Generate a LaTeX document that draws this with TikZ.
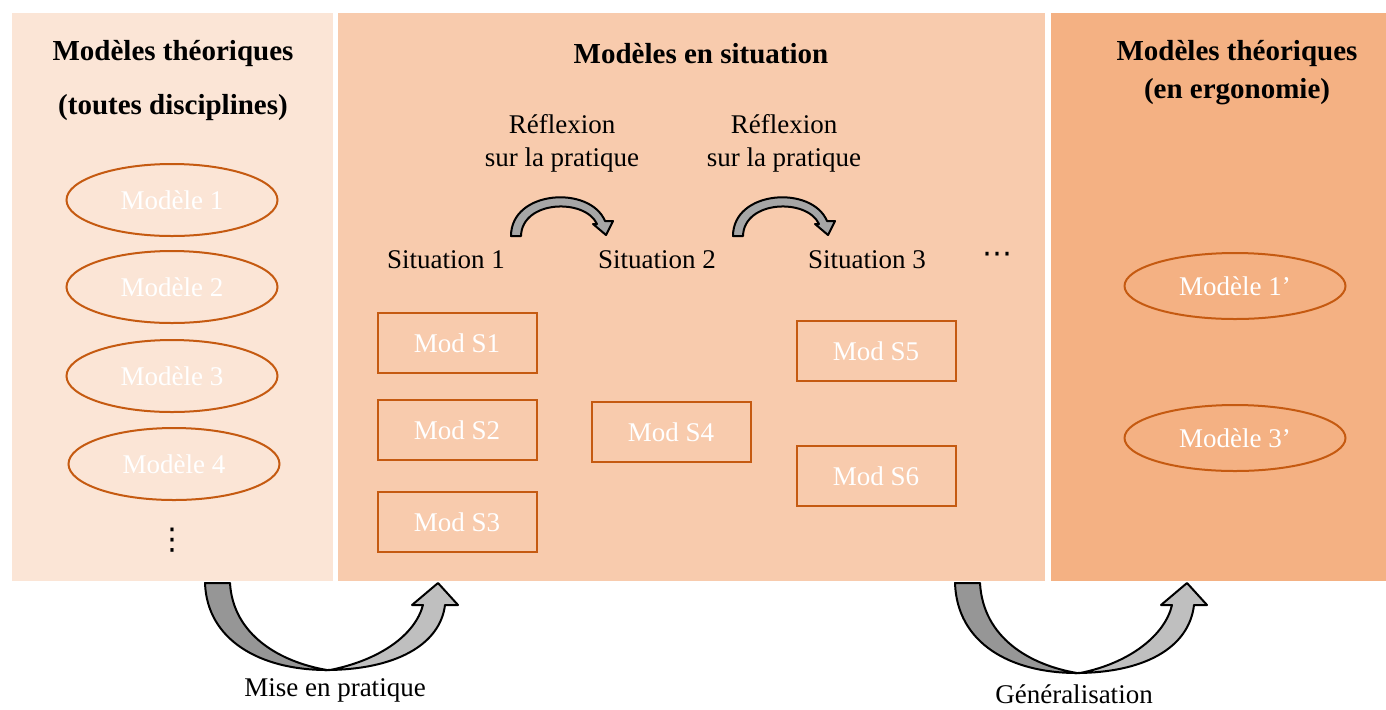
\documentclass[tikz,border=0pt]{standalone}
\usepackage{fontspec}
\setmainfont{Liberation Serif}
\newfontfamily\symbfont{DejaVu Sans}
\usetikzlibrary{shapes.geometric}

\definecolor{panelTheo}{HTML}{FBE5D6}
\definecolor{panelSit}{HTML}{F8CBAD}
\definecolor{panelErgo}{HTML}{F4B183}
\definecolor{bordOrange}{HTML}{C55A11}
\definecolor{grisFonce}{HTML}{969696}
\definecolor{grisClair}{HTML}{BFBFBF}
\definecolor{grisMoyen}{HTML}{A6A6A6}

\tikzset{
  texte/.style={font=\fontsize{13.5}{16.5}\selectfont},
  titre/.style={font=\bfseries\fontsize{14.5}{17}\selectfont},
  modele/.style={ellipse, draw=bordOrange, line width=1pt, inner sep=0pt,
    minimum width=105.5pt, minimum height=36pt, text=white, texte},
  modeleErgo/.style={modele, minimum width=110.5pt, minimum height=33pt},
  modS/.style={rectangle, draw=bordOrange, line width=1pt, inner sep=0pt,
    minimum width=79.5pt, minimum height=30pt, text=white, texte},
  fleche/.style={draw=black, line width=1pt, line join=round},
}

\begin{document}
\begin{tikzpicture}[x=0.5pt,y=-0.5pt]
    \useasboundingbox (0,0) rectangle (1386,709);

    %Shape: Rectangle (panels)
    \fill [panelTheo] (12,13) rectangle (333,581);
    \fill [panelSit] (338,13) rectangle (1045,581);
    \fill [panelErgo] (1051,13) rectangle (1386,581);

    % Text Node
    \node [titre] (titreTheo) at (173,54) {Modèles théoriques};
    \node [titre] (titreDisc) at (173,108) {(toutes disciplines)};
    \node [titre] (titreSit) at (701,54) {Modèles en situation};
    \node [titre] (titreErgo) at (1237,54) {Modèles théoriques};
    \node [titre] (titreErgoB) at (1237,92) {(en ergonomie)};

    % Ellipses
    \node [modele] (m1) at (172,200) {Modèle 1};
    \node [modele] (m2) at (172,287) {Modèle 2};
    \node [modele] (m3) at (172,376) {Modèle 3};
    \node [modele] (m4) at (174,464) {Modèle 4};
    \node [font=\symbfont\fontsize{15}{18}\selectfont] (mdots) at (172,540) {⋮};

    \node [modeleErgo] (me1) at (1235,286) {Modèle 1’};
    \node [modeleErgo] (me3) at (1235,438) {Modèle 3’};

    % Text Node
    \node [texte, align=center] (refl1) at (562,143) {Réflexion\\sur la pratique};
    \node [texte, align=center] (refl2) at (784,143) {Réflexion\\sur la pratique};
    \node [texte] (sit1) at (446,260) {Situation 1};
    \node [texte] (sit2) at (657,260) {Situation 2};
    \node [texte] (sit3) at (867,260) {Situation 3};
    \node [font=\symbfont\fontsize{15}{18}\selectfont] (sitdots) at (997,258) {⋯};

    % Rectangles
    \node [modS] (s1) at (457,343) {Mod S1};
    \node [modS] (s2) at (457,430) {Mod S2};
    \node [modS] (s3) at (457,522) {Mod S3};
    \node [modS] (s4) at (671,432) {Mod S4};
    \node [modS] (s5) at (876,351) {Mod S5};
    \node [modS] (s6) at (876,476) {Mod S6};

    %Shape: Curved Arrow (reflexion 1)
    \filldraw [fleche, fill=grisMoyen] (511,236) .. controls (511,190) and (590,185) .. (605,221)
        -- (613,221) -- (606,235) -- (593,224) -- (597,224)
        .. controls (585,198) and (522,200) .. (521,236) -- cycle;
    %Shape: Curved Arrow (reflexion 2)
    \filldraw [fleche, fill=grisMoyen] (733,236) .. controls (733,190) and (812,185) .. (827,221)
        -- (835,221) -- (828,235) -- (815,224) -- (819,224)
        .. controls (807,198) and (744,200) .. (743,236) -- cycle;

    %Shape: Curved Arrow (mise en pratique)
    \filldraw [fleche, fill=grisClair] (330,670) .. controls (380,660) and (415,635) .. (423,605)
        -- (412,605) -- (438,583) -- (458,605) -- (445,605)
        .. controls (440,645) and (395,670) .. (325,670) -- cycle;
    \filldraw [fleche, fill=grisFonce] (205,583) .. controls (207,640) and (260,670) .. (327,670)
        .. controls (280,662) and (233,635) .. (230,583) -- cycle;
    \node [texte] (mise) at (335,690) {Mise en pratique};

    %Shape: Curved Arrow (generalisation)
    \filldraw [fleche, fill=grisClair] (1080,673) .. controls (1130,663) and (1165,635) .. (1172,605)
        -- (1161,605) -- (1187,583) -- (1207,605) -- (1194,605)
        .. controls (1189,648) and (1144,673) .. (1075,673) -- cycle;
    \filldraw [fleche, fill=grisFonce] (955,583) .. controls (957,643) and (1010,673) .. (1077,673)
        .. controls (1030,665) and (983,638) .. (980,583) -- cycle;
    \node [texte] (gene) at (1074,694) {Généralisation};

\end{tikzpicture}
\end{document}
